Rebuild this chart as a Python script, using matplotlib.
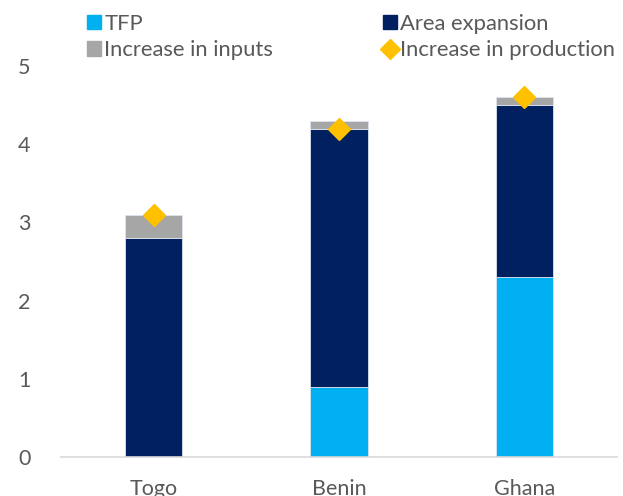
import matplotlib
matplotlib.use("Agg")
import matplotlib.pyplot as plt
from matplotlib.lines import Line2D
from matplotlib.patches import Patch

paises = ["Togo", "Benin", "Ghana"]
tfp = [0.0, 0.9, 2.3]
area = [2.8, 3.3, 2.2]
insumos = [0.3, 0.1, 0.1]
produccion = [3.1, 4.2, 4.6]

C_TFP = "#00B0F0"
C_AREA = "#002060"
C_INS = "#A6A6A6"
C_PROD = "#FFC000"
C_TXT = "#595959"

plt.rcParams["font.family"] = ["Lato", "DejaVu Sans"]

fig = plt.figure(figsize=(6.23, 4.96), dpi=100)
ax = fig.add_axes([0.0979, 0.0786, 0.8925, 0.7883])

x = list(range(len(paises)))
ancho = 0.31
base2 = [a + b for a, b in zip(tfp, area)]
ax.bar(x, tfp, ancho, color=C_TFP, edgecolor="#DCE3EE", linewidth=0.6, zorder=2)
ax.bar(x, area, ancho, bottom=tfp, color=C_AREA, edgecolor="#DCE3EE", linewidth=0.6, zorder=2)
ax.bar(x, insumos, ancho, bottom=base2, color=C_INS, edgecolor="#DCE3EE", linewidth=0.6, zorder=2)
ax.plot(x, produccion, linestyle="none", marker="D", markersize=11, color=C_PROD, zorder=3)

ax.set_xlim(-0.5, len(paises) - 0.5)
ax.set_ylim(0, 5)
ax.set_yticks(range(0, 6))
ax.set_xticks(x)
ax.set_xticklabels(paises)
for s in ["top", "right", "left"]:
    ax.spines[s].set_visible(False)
ax.spines["bottom"].set_color("#D9D9D9")
ax.spines["bottom"].set_linewidth(1.2)
ax.tick_params(axis="both", length=0, labelsize=15.5, colors=C_TXT)
ax.tick_params(axis="y", pad=22)
ax.tick_params(axis="x", pad=16)

handles = [
    Patch(color=C_TFP, label="TFP"),
    Patch(color=C_INS, label="Increase in inputs"),
    Patch(color=C_AREA, label="Area expansion"),
    Line2D([], [], linestyle="none", marker="D", markersize=10, color=C_PROD, label="Increase in production"),
]
fig.legend(handles=handles, ncol=2, loc="upper left", bbox_to_anchor=(0.125, 0.99),
           frameon=False, fontsize=15.8, labelcolor=C_TXT, handlelength=0.65, handleheight=0.65,
           handletextpad=0.15, columnspacing=5.0, labelspacing=0.3, borderaxespad=0)

fig.savefig("out.png", dpi=100)
